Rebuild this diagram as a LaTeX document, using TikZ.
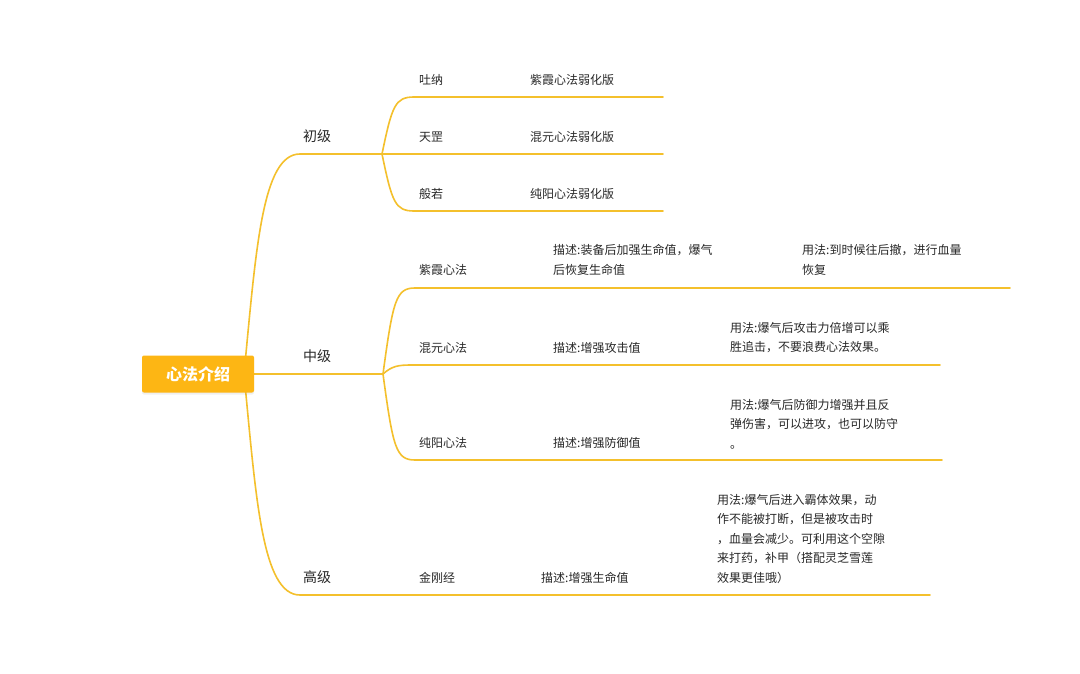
\documentclass[tikz,border=0pt]{standalone}
\usepackage{fontspec}
\setmainfont{Noto Sans CJK SC}
\usetikzlibrary{positioning,backgrounds,shadows}
\definecolor{mapyellow}{RGB}{244,192,44}
\definecolor{rootorange}{RGB}{253,182,20}
\definecolor{textgray}{RGB}{40,40,40}

\begin{document}
\begin{tikzpicture}[x=1pt, y=-1pt,
    rootbox/.style={fill=rootorange, rounded corners=2pt, minimum width=112pt, minimum height=37pt, text=white, font=\fontsize{16}{18}\selectfont\bfseries, drop shadow={opacity=0.12, shadow xshift=0pt, shadow yshift=-2pt}},
    lvl/.style={anchor=west, inner sep=0pt, text=textgray, font=\fontsize{14}{16}\selectfont},
    leaf/.style={anchor=west, inner sep=0pt, text=textgray, font=\fontsize{12}{14}\selectfont},
    note/.style={anchor=west, inner sep=0pt, align=left, text=textgray, font=\fontsize{12}{19.5}\selectfont},
    branch/.style={draw=mapyellow, line width=1.6pt, line cap=round}
]
    \useasboundingbox (0,0) rectangle (1080,674);

    % root
    \node[rootbox] (root) at (198,374) {心法介绍};
    \coordinate (rootr) at (244,374);
    \coordinate (chuji) at (382,154);
    \coordinate (zhongji) at (383,374);

    % first level
    \node[lvl] (chujiT) at (303,136) {初级};
    \node[lvl] (zhongjiT) at (303,356) {中级};
    \node[lvl] (gaojiT) at (303,577) {高级};

    % 初级
    \node[leaf] (tuna) at (419,80) {吐纳};
    \node[leaf] (tunaD) at (530,80) {紫霞心法弱化版};
    \node[leaf] (tiangang) at (419,137) {天罡};
    \node[leaf] (tiangangD) at (530,137) {混元心法弱化版};
    \node[leaf] (bore) at (419,194) {般若};
    \node[leaf] (boreD) at (530,194) {纯阳心法弱化版};
    \coordinate (tunaE) at (663,97);
    \coordinate (tiangangE) at (663,154);
    \coordinate (boreE) at (663,211);

    % 中级
    \node[leaf] (zixia) at (419,270) {紫霞心法};
    \node[note] (zixiaD) at (553,260) {描述:装备后加强生命值，爆气\\后恢复生命值};
    \node[note] (zixiaU) at (802,260) {用法:到时候往后撤，进行血量\\恢复};
    \node[leaf] (hunyuan) at (419,348) {混元心法};
    \node[leaf] (hunyuanD) at (553,348) {描述:增强攻击值};
    \node[note] (hunyuanU) at (730,337.5) {用法:爆气后攻击力倍增可以乘\\胜追击，不要浪费心法效果。};
    \node[leaf] (chunyang) at (419,443) {纯阳心法};
    \node[leaf] (chunyangD) at (553,443) {描述:增强防御值};
    \node[note] (chunyangU) at (730,424) {用法:爆气后防御力增强并且反\\弹伤害，可以进攻，也可以防守\\。};
    \coordinate (zixiaE) at (1010,288);
    \coordinate (hunyuanE) at (940,365);
    \coordinate (chunyangE) at (942,460);

    % 高级
    \node[leaf] (jingang) at (419,578) {金刚经};
    \node[leaf] (jingangD) at (541,578) {描述:增强生命值};
    \node[note] (jingangU) at (717,539) {用法:爆气后进入霸体效果，动\\作不能被打断，但是被攻击时\\，血量会减少。可利用这个空隙\\来打药，补甲（搭配灵芝雪莲\\效果更佳哦）};
    \coordinate (jingangE) at (930,595);

    \begin{scope}[on background layer]
        \fill[white] (0,0) rectangle (1080,674);
        \draw[branch] (rootr) .. controls (256,250) and (262,154) .. (300,154) -- (chuji);
        \draw[branch] (root.east) -- (zhongji);
        \draw[branch] (rootr) .. controls (256,498) and (262,595) .. (300,595) -- (jingangE);

        \draw[branch] (chuji) .. controls (392,106) and (395,97) .. (414,97) -- (tunaE);
        \draw[branch] (chuji) -- (tiangangE);
        \draw[branch] (chuji) .. controls (392,202) and (395,211) .. (414,211) -- (boreE);

        \draw[branch] (zhongji) .. controls (393,300) and (396,288) .. (415,288) -- (zixiaE);
        \draw[branch] (zhongji) .. controls (392,366) and (398,365) .. (412,365) -- (hunyuanE);
        \draw[branch] (zhongji) .. controls (393,448) and (396,460) .. (415,460) -- (chunyangE);
    \end{scope}
\end{tikzpicture}
\end{document}
